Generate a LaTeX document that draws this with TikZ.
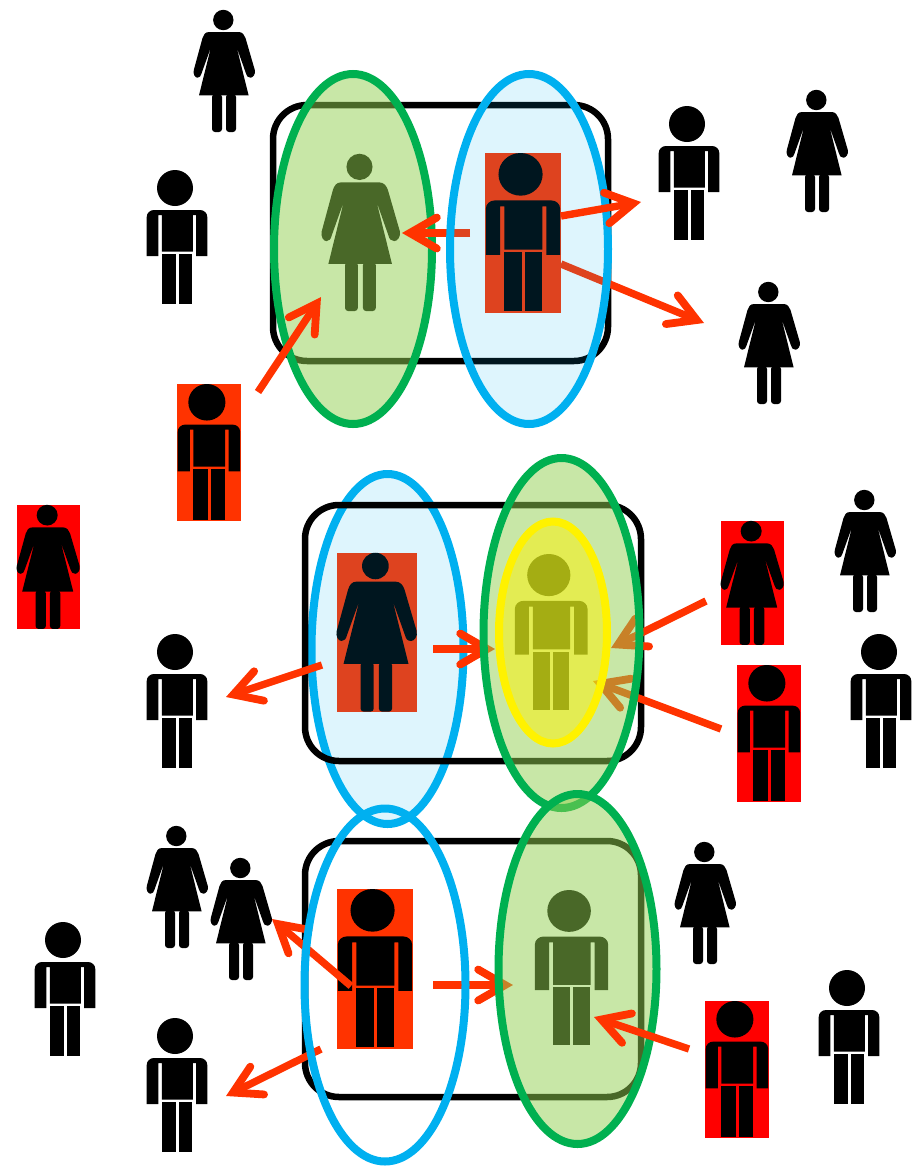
\documentclass[tikz,border=0pt]{standalone}
\usepackage{xcolor}
\usetikzlibrary{arrows.meta}
\definecolor{arrowred}{RGB}{255,51,0}
\definecolor{boxred}{RGB}{255,0,0}
\definecolor{ringblue}{RGB}{0,176,240}
\definecolor{ringgreen}{RGB}{0,176,80}
\definecolor{fillgreen}{RGB}{146,208,80}
\tikzset{
    roundbox/.style={draw=black, line width=6.5pt, rounded corners=34pt},
    bluering/.style={draw=ringblue, line width=8pt},
    bluefill/.style={bluering, fill=ringblue, fill opacity=0.13, draw opacity=1},
    greenfill/.style={draw=ringgreen, line width=8pt, fill=fillgreen, fill opacity=0.5, draw opacity=1},
    yellowfill/.style={draw=yellow, line width=8pt, fill=yellow, fill opacity=0.5, draw opacity=1},
    movearrow/.style={draw=arrowred, line width=7.4pt, -{Straight Barb[length=27pt,width=31pt,line width=7.8pt,line cap=round,line join=miter]}},
    manfig/.pic={
        \fill (29,18) circle (18);
        \fill (0.7,86) -- (0.7,47) .. controls (0.7,43) and (4,40) .. (8,40) -- (54,40)
            .. controls (58,40) and (61.3,43) .. (61.3,47) -- (61.3,86) -- (50,86)
            -- (50,45) -- (46.8,45) -- (46.8,81.5) -- (15.8,81.5) -- (15.8,45) -- (12.4,45)
            -- (12.4,86) -- cycle;
        \fill (15.8,83.5) rectangle (29.9,133.5);
        \fill (32.6,83.5) rectangle (46.2,133.5);
    },
    womanfig/.pic={
        \fill (29.3,10) circle (10.2);
        \fill (15,22) -- (44.5,22) .. controls (48.5,22) and (50.5,25) .. (51.5,28)
            -- (60.8,60) .. controls (61.8,64) and (59,67.7) .. (56.5,67.7)
            .. controls (54,67.7) and (52.5,66) .. (52,63.5) -- (42.6,37) -- (54.6,85.3)
            -- (5,85.3) -- (17,37) -- (7.5,63.5) .. controls (7,66) and (5.5,67.7) .. (3.5,67.7)
            .. controls (1,67.7) and (-1.2,64) .. (-0.2,60) -- (8.5,28)
            .. controls (9.5,25) and (11,22) .. (15,22) -- cycle;
        \fill[rounded corners=3pt] (18,84) -- (18,122) -- (28,122) -- (28,84) -- cycle;
        \fill[rounded corners=3pt] (32,84) -- (32,122) -- (42,122) -- (42,84) -- cycle;
    }
}

\begin{document}
\begin{tikzpicture}[x=1pt, y=-1pt]
        \useasboundingbox (0,0) rectangle (922,1168);

        % Draw the plain figures
        \foreach \x/\y in {146/170, 658/106, 146/634, 850/634, 34/922, 146/1018, 818/970}
            \pic at (\x,\y) {manfig};
        \foreach \x/\y in {194/10, 787/90, 739/282, 835/490, 147/826, 211/858, 675/842}
            \pic at (\x,\y) {womanfig};

        % Draw the figures on red
        \fill[arrowred] (177,384) rectangle (241,521);
        \pic[shift={(177,384)},xscale=1.03,yscale=1.015] {manfig};
        \fill[boxred] (17,505) rectangle (80,629);
        \pic[shift={(17,505)},xscale=1.03,yscale=1.016] {womanfig};
        \fill[boxred] (721,521) rectangle (784,645);
        \pic[shift={(721,521)},xscale=1.03,yscale=1.016] {womanfig};
        \fill[boxred] (737,665) rectangle (801,802);
        \pic[shift={(737,665)},xscale=1.03,yscale=1.015] {manfig};
        \fill[boxred] (705,1001) rectangle (769,1138);
        \pic[shift={(705,1001)},xscale=1.03,yscale=1.015] {manfig};

        % Draw the top group
        \pic[shift={(322,154)},xscale=1.28,yscale=1.287] {womanfig};
        \fill[arrowred] (485,153) rectangle (561,313);
        \pic[shift={(485,153)},xscale=1.226,yscale=1.185] {manfig};
        \draw[roundbox] (273,105) rectangle (608,361);
        \draw[greenfill] (353,249) circle[x radius=79, y radius=175];
        \draw[movearrow] (470,233) -- (402,233);
        \draw[movearrow] (258,392) -- (321,297);
        \draw[movearrow] (561,264) -- (704,323);
        \draw[bluefill] (529,249) circle[x radius=79, y radius=175];
        \draw[movearrow] (561,216) -- (641,202);

        % Draw the middle group
        \fill[arrowred] (337,553) rectangle (417,712);
        \pic[shift={(337,553)},xscale=1.31,yscale=1.30] {womanfig};
        \draw[bluefill] (387.5,649) circle[x radius=76, y radius=175];
        \draw[roundbox] (305,505) rectangle (641,761);
        \draw[movearrow] (322,665) -- (226,697);
        \draw[movearrow] (433,649) -- (495,649);
        \draw[movearrow] (706,601) -- (611,648);
        \draw[movearrow] (721,729) -- (593,681);
        \pic[shift={(514,554)},xscale=1.2,yscale=1.17] {manfig};
        \draw[greenfill] (561.5,633) circle[x radius=78, y radius=175];
        \draw[yellowfill] (553,632.5) circle[x radius=54, y radius=111];

        % Draw the bottom group
        \fill[arrowred] (337,889) rectangle (413,1049);
        \pic[shift={(337,889)},xscale=1.226,yscale=1.185] {manfig};
        \pic[shift={(534,890)},xscale=1.21,yscale=1.163] {manfig};
        \draw[roundbox] (305,841) rectangle (641,1097);
        \draw[movearrow] (351,986) -- (272,919);
        \draw[movearrow] (321,1049) -- (226,1096);
        \draw[movearrow] (433,985) -- (513,985);
        \draw[bluering] (385,985) circle[x radius=80.5, y radius=176.5];
        \draw[greenfill] (577.5,969) circle[x radius=79, y radius=175];
        \draw[movearrow] (689,1049) -- (594,1017);
    \end{tikzpicture}
\end{document}
